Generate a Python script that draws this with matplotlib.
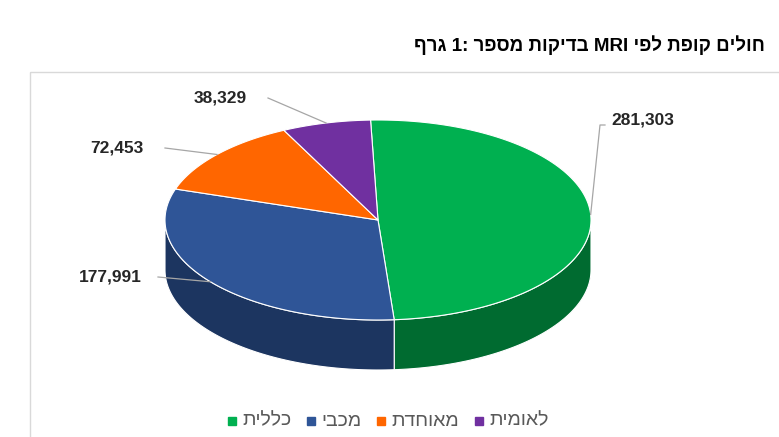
import numpy as np
import matplotlib
matplotlib.use("Agg")
import matplotlib.pyplot as plt
from matplotlib.patches import Polygon, Rectangle

plt.rcParams['font.family'] = ['Liberation Sans', 'DejaVu Sans']

# Data
funds = ["כללית", "מכבי", "מאוחדת", "לאומית"]
tests = [281303, 177991, 72453, 38329]
colors = ["#00B050", "#2F5597", "#FF6600", "#7030A0"]
side_colors = ["#006B30", "#1C3560", "#B34700", "#4A1F6B"]
title = "גרף 1: מספר בדיקות MRI לפי קופת חולים"


def heb(s):
    # matplotlib has no bidi: flip letters of Hebrew words
    out = []
    for w in s.split(" "):
        if any('\u0590' <= c <= '\u05ff' for c in w):
            w = w[::-1]
        out.append(w)
    return " ".join(out)


W, H = 779, 437
fig = plt.figure(figsize=(W / 100, H / 100), dpi=100)
ax = fig.add_axes([0, 0, 1, 1])
ax.set_xlim(0, W)
ax.set_ylim(H, 0)
ax.axis('off')

ax.add_patch(Rectangle((30, 72), 760, 380, fill=False, ec="#D9D9D9", lw=1))

cx, cy, rx, ry, depth = 378, 220, 213, 100, 50
start = 92.0
total = sum(tests)
bounds = [start]
for v in tests:
    bounds.append(bounds[-1] - 360 * v / total)


def pt(a, dy=0):
    r = np.radians(a)
    return cx + rx * np.cos(r), cy - ry * np.sin(r) + dy


# sides (front half: angles 180..360 i.e. -180..0)
for i in range(len(tests)):
    a1, a0 = bounds[i], bounds[i + 1]  # a1 > a0
    lo, hi = max(a0, -180), min(a1, 0)
    for shift in (0, 360):
        l, h = max(a0 + shift, -180), min(a1 + shift, 0)
        if h > l:
            ang = np.linspace(l, h, 80)
            top = [pt(a) for a in ang]
            bot = [pt(a, depth) for a in ang[::-1]]
            ax.add_patch(Polygon(top + bot, closed=True, fc=side_colors[i], ec="white", lw=0.8))

# tops
for i in range(len(tests)):
    ang = np.linspace(bounds[i], bounds[i + 1], 120)
    pts = [(cx, cy)] + [pt(a) for a in ang]
    ax.add_patch(Polygon(pts, closed=True, fc=colors[i], ec="white", lw=0.8))

# data labels with leader lines
label_pos = [(643, 120), (110, 277), (117, 148), (220, 98)]
for i, v in enumerate(tests):
    mid = (bounds[i] + bounds[i + 1]) / 2
    ex, ey = pt(mid)
    lx, ly = label_pos[i]
    if lx > cx:
        ax.plot([ex, 600, lx - 38], [ey, ly + 5, ly + 5], color="#A6A6A6", lw=0.9)
    else:
        ax.plot([ex, lx + 48 if i else lx + 48], [ey, ly], color="#A6A6A6", lw=0.9)
    ax.text(lx, ly, f"{v:,}", ha='center', va='center', fontsize=12.5,
            fontweight='bold', color="#262626")

# re-do leader lines more like the reference
ax.text(765, 45, heb(title), ha='right', va='center', fontsize=13.5,
        fontweight='bold', color="black")

# legend
lx = 232
for name, c in zip(funds, colors):
    ax.add_patch(Rectangle((lx - 4, 417), 8, 8, color=c))
    t = ax.text(lx + 10, 421, heb(name), ha='left', va='center', fontsize=14, color="#595959")
    fig.canvas.draw()
    bb = t.get_window_extent()
    lx = lx + 10 + bb.width + 20

fig.savefig("out.png", dpi=100)
